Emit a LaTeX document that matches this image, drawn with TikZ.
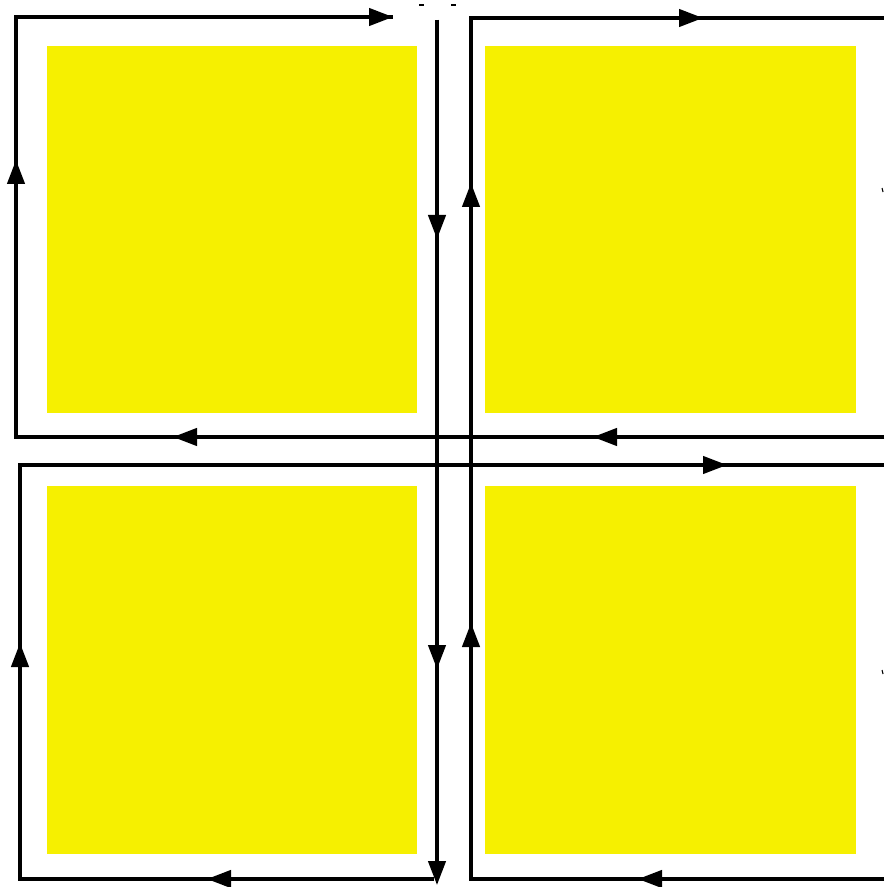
\documentclass[tikz,border=0pt]{standalone}
\usetikzlibrary{arrows.meta}
\definecolor{padyellow}{RGB}{246,240,0}
\begin{document}
\begin{tikzpicture}[x=0.75pt,y=-0.75pt,
  wire/.style={line width=2.5pt,line join=miter},
  flow/.style={wire,-{Triangle[length=18pt,width=13pt]}},
  pad/.style={fill=padyellow}]
\useasboundingbox (0,0) rectangle (884,887);
% yellow squares
\fill[pad] (47,46) rectangle (417,413);
\fill[pad] (485,46) rectangle (856,413);
\fill[pad] (47,486) rectangle (417,854);
\fill[pad] (485,486) rectangle (856,854);
% coordinates: top-left loop
\coordinate (a0) at (884,437);
\coordinate (a1) at (593,437);
\coordinate (a2) at (173,437);
\coordinate (a3) at (16,437);
\coordinate (a4) at (16,160);
\coordinate (a5) at (16,17);
\coordinate (a6) at (393,17);
\draw[wire] (a0) -- (a3) -- (a5) -- (a6);
\draw[flow] (a0) -- (a1);
\draw[flow] (a1) -- (a2);
\draw[flow] (a2) -- (a3) -- (a4);
\draw[flow] (a4) -- (a5) -- (a6);
% central down line
\coordinate (b0) at (437,20);
\coordinate (b1) at (437,239);
\coordinate (b2) at (437,669);
\coordinate (b3) at (437,885);
\draw[wire] (b0) -- (b2);
\draw[flow] (b0) -- (b1);
\draw[flow] (b1) -- (b2);
\draw[flow] (b2) -- (b3);
% bottom-left loop
\coordinate (c0) at (434,879);
\coordinate (c1) at (207,879);
\coordinate (c2) at (20,879);
\coordinate (c3) at (20,643);
\coordinate (c4) at (20,465);
\coordinate (c5) at (727,465);
\coordinate (c6) at (884,465);
\draw[wire] (c0) -- (c2) -- (c4) -- (c6);
\draw[flow] (c0) -- (c1);
\draw[flow] (c1) -- (c2) -- (c3);
\draw[flow] (c3) -- (c4) -- (c5);
% right loop
\coordinate (d0) at (884,879);
\coordinate (d1) at (638,879);
\coordinate (d2) at (471,879);
\coordinate (d3) at (471,623);
\coordinate (d4) at (471,183);
\coordinate (d5) at (471,18);
\coordinate (d6) at (703,18);
\coordinate (d7) at (884,18);
\draw[wire] (d0) -- (d2) -- (d5) -- (d7);
\draw[flow] (d0) -- (d1);
\draw[flow] (d1) -- (d2) -- (d3);
\draw[flow] (d3) -- (d4);
\draw[flow] (d4) -- (d5) -- (d6);
% tiny marks
\draw[line width=0.8pt] (419,5) -- (424,5);
\draw[line width=0.8pt] (451,5) -- (456,5);
\draw[line width=0.8pt] (882,188) -- (883,192);
\draw[line width=0.8pt] (882,670) -- (883,674);
\end{tikzpicture}
\end{document}
